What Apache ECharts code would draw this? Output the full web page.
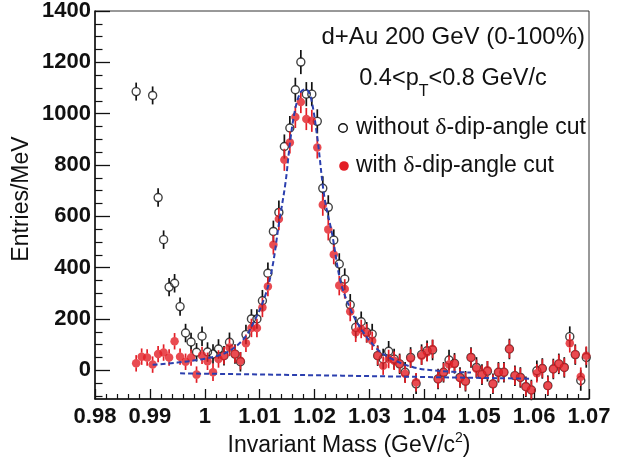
<!DOCTYPE html>
<html><head><meta charset="utf-8">
<script src="https://cdn.jsdelivr.net/npm/echarts@6/dist/echarts.min.js"></script>
<style>html,body{margin:0;padding:0;background:#fff}#c{width:632px;height:465px}</style>
</head><body><div id="c"></div>
<script>
// ---- data ----
const massBins = [
0.9875,0.9885,0.9895,0.9905,0.9915,0.9925,0.9935,0.9945,0.9955,0.9965,
0.9975,0.9985,0.9995,1.0005,1.0015,1.0025,1.0035,1.0045,1.0055,1.0065,
1.0075,1.0085,1.0095,1.0105,1.0115,1.0125,1.0135,1.0145,1.0155,1.0165,
1.0175,1.0185,1.0195,1.0205,1.0215,1.0225,1.0235,1.0245,1.0255,1.0265,
1.0275,1.0285,1.0295,1.0305,1.0315,1.0325,1.0335,1.0345,1.0355,1.0365,
1.0375,1.0385,1.0395,1.0405,1.0415,1.0425,1.0435,1.0445,1.0455,1.0465,
1.0475,1.0485,1.0495,1.0505,1.0515,1.0525,1.0535,1.0545,1.0555,1.0565,
1.0575,1.0585,1.0595,1.0605,1.0615,1.0625,1.0635,1.0645,1.0655,1.0665,
1.0675,1.0685,1.0695];
const withoutCut = [
1086,null,null,1071,673,509,324,339,248,145,
110,70,133,71,63,83,57,109,63,33,
139,200,200,271,378,541,615,872,944,1093,
1201,1076,1076,970,709,635,507,414,355,255,
167,189,148,141,57,44,74,44,25,-8,
50,-53,61,76,79,-34,-8,40,27,-28,
-43,50,11,-17,-4,-53,-8,-8,83,-21,
-28,-64,-77,-2,7,-60,5,25,11,131,
61,-40,50];
const withoutCutErr = [
35,35,35,35,36,36,36,36,36,36,
36,36,38,38,38,38,38,38,38,38,
38,38,38,42,42,42,47,47,47,47,
47,47,47,47,47,47,42,42,42,42,
42,40,40,40,40,40,40,40,40,40,
40,40,40,40,40,40,40,40,40,40,
40,40,40,40,40,40,40,40,40,40,
40,40,40,40,40,40,40,40,40,40,
40,40,40];
const withCut = [
27,53,50,22,63,69,50,113,53,33,
50,-17,58,35,-8,44,57,89,63,37,
105,165,165,245,326,489,589,820,888,987,
1045,979,972,868,645,549,451,330,317,229,
148,161,144,115,57,18,44,37,25,-14,
46,-47,57,70,83,-34,-8,22,25,-30,
-43,50,6,-17,0,-53,-8,-8,83,-21,
-28,-64,-77,-12,7,-60,5,25,11,105,
61,-25,57];
const withCutErr = [
32,32,32,32,32,32,32,32,32,32,
32,32,34,34,34,34,34,34,34,34,
34,36,36,38,38,38,43,43,43,43,
43,43,43,43,43,43,38,38,38,38,
38,36,36,36,36,36,36,36,36,36,
36,36,36,36,36,36,36,36,36,36,
36,36,36,36,36,36,36,36,36,36,
36,36,36,36,36,36,36,36,36,36,
36,36,36];
// fit curve (signal + background)
const fitMass = [0.9905,0.9950,1.0000,1.0040,1.0070,1.0090,1.0110,1.0123,1.0135,1.0147,1.0156,1.0165,1.0175,1.0184,1.0193,1.0205,1.0218,1.0232,1.0247,1.0265,1.0285,1.0314,1.0340,1.0381,1.0430,1.0485];
const fitVals = [21,30,45,70,120,190,290,400,570,730,900,1020,1085,1095,1065,907,674,531,349,240,160,83,45,11,-3,-9];
// background line
const bgMass = [0.9955,1.0250,1.0595];
const bgVals = [-12,-21,-33];
// axes
const xTickValues = [0.98,0.99,1.00,1.01,1.02,1.03,1.04,1.05,1.06,1.07];
const xTickLabels = ['0.98','0.99','1','1.01','1.02','1.03','1.04','1.05','1.06','1.07'];
const yTickValues = [0,200,400,600,800,1000,1200,1400];
const yTickLabels = ['0','200','400','600','800','1000','1200','1400'];

// minor tick positions (axis structure)
const xMinor = [];
for (let k = 0; k <= 45; k++) { if (k % 5) xMinor.push(+(0.98 + k * 0.002).toFixed(4)); }
const yMinor = [];
for (let v = -100; v <= 1400; v += 50) { if (v % 200) yMinor.push(v); }

const RED = '#e31e26', BLUE = '#2b3fae', FONT = 'Liberation Sans';

function pts(vals, errs) {
  const out = [];
  massBins.forEach((m, i) => { if (vals[i] != null) out.push([m, vals[i], errs[i]]); });
  return out;
}
function errBar(color, r) {
  return function (params, api) {
    const x = api.value(0), y = api.value(1), e = api.value(2);
    const c = api.coord([x, y]), t = api.coord([x, y + e]), b = api.coord([x, y - e]);
    const ch = [];
    if (c[1] - r > t[1]) ch.push({type:'line', shape:{x1:c[0], y1:t[1], x2:c[0], y2:c[1]-r}, style:{stroke:color, lineWidth:1.7}});
    if (b[1] > c[1] + r) ch.push({type:'line', shape:{x1:c[0], y1:c[1]+r, x2:c[0], y2:b[1]}, style:{stroke:color, lineWidth:1.7}});
    return {type:'group', children: ch};
  };
}
const openData = pts(withoutCut, withoutCutErr);
const redData = pts(withCut, withCutErr);

const chart = echarts.init(document.getElementById('c'), null, {renderer:'canvas'});
const axisLineStyle = {color:'#111', width:1.5};
chart.setOption({
  animation:false,
  grid:{left:95, top:10, right:43, bottom:66, show:true, borderColor:'#333', borderWidth:1, backgroundColor:'transparent'},
  xAxis:[
    {type:'value', min:0.98, max:1.07, position:'bottom',
     axisLine:{show:true, onZero:false, lineStyle:axisLineStyle},
     axisTick:{show:true, inside:true, length:10, customValues:xTickValues, lineStyle:{color:'#111', width:1.3}},
     axisLabel:{customValues:xTickValues, showMinLabel:true, showMaxLabel:true, margin:7,
       formatter:v => { const i = xTickValues.findIndex(t => Math.abs(t - v) < 1e-9); return i >= 0 ? xTickLabels[i] : ''; },
       fontFamily:FONT, fontWeight:'bold', fontSize:22, color:'#111'},
     splitLine:{show:false}},
    {type:'value', min:0.98, max:1.07, position:'bottom',
     axisLine:{show:false, onZero:false},
     axisTick:{show:true, inside:true, length:5, customValues:xMinor, lineStyle:{color:'#111', width:1.2}},
     axisLabel:{show:false}, splitLine:{show:false}}
  ],
  yAxis:[
    {type:'value', min:-112, max:1400, position:'left',
     axisLine:{show:true, onZero:false, lineStyle:axisLineStyle},
     axisTick:{show:true, inside:true, length:15, customValues:yTickValues, lineStyle:{color:'#111', width:1.3}},
     axisLabel:{customValues:yTickValues, showMinLabel:true, showMaxLabel:true, margin:4,
       formatter:v => { const i = yTickValues.indexOf(v); return i >= 0 ? yTickLabels[i] : ''; },
       fontFamily:FONT, fontWeight:'bold', fontSize:22, color:'#111'},
     splitLine:{show:false}},
    {type:'value', min:-112, max:1400, position:'left',
     axisLine:{show:false, onZero:false},
     axisTick:{show:true, inside:true, length:7.5, customValues:yMinor, lineStyle:{color:'#111', width:1.2}},
     axisLabel:{show:false}, splitLine:{show:false}}
  ],
  series:[
    {type:'custom', name:'without err', renderItem:errBar('#111', 4), data:openData, encode:{x:0, y:1}, z:2},
    {type:'scatter', name:'without δ-dip-angle cut', data:openData.map(d => [d[0], d[1]]), symbol:'circle', symbolSize:8,
     itemStyle:{color:'rgba(255,255,255,0)', borderColor:'#111', borderWidth:1.4}, z:3},
    {type:'custom', name:'with err', renderItem:errBar(RED, 4), data:redData, encode:{x:0, y:1}, z:4},
    {type:'scatter', name:'with δ-dip-angle cut', data:redData.map(d => [d[0], d[1]]), symbol:'circle', symbolSize:8.5,
     itemStyle:{color:RED}, z:5},
    {type:'line', name:'fit', data:fitMass.map((m, i) => [m, fitVals[i]]), smooth:0.35, showSymbol:false,
     lineStyle:{color:BLUE, width:2, type:[5,3]}, z:6},
    {type:'line', name:'background', data:bgMass.map((m, i) => [m, bgVals[i]]), showSymbol:false,
     lineStyle:{color:BLUE, width:2, type:[5,3]}, z:6}
  ],
  graphic:[
    {type:'text', x:585, y:37, style:{text:'d+Au 200 GeV (0-100%)', fontFamily:FONT, fontSize:24, fill:'#111', textAlign:'right', textVerticalAlign:'middle'}},
    {type:'text', x:453, y:79, style:{text:'{n|0.4<p}{s|T}{n|<0.8 GeV/c}', textAlign:'center', textVerticalAlign:'middle', fill:'#111',
      rich:{n:{fontFamily:FONT, fontSize:23.5, lineHeight:23, fill:'#111'}, s:{fontFamily:FONT, fontSize:16, lineHeight:16, padding:[26,0,0,0], fill:'#111'}}}},
    {type:'circle', shape:{cx:343, cy:128, r:4.3}, style:{fill:'none', stroke:'#111', lineWidth:1.4}},
    {type:'text', x:356, y:128, style:{text:'{n|without }{d|δ}{n|-dip-angle cut}', textAlign:'left', textVerticalAlign:'middle', fill:'#111',
      rich:{n:{fontFamily:FONT, fontSize:23, fill:'#111'}, d:{fontFamily:'Liberation Serif', fontSize:24, fill:'#111'}}}},
    {type:'circle', shape:{cx:344, cy:166, r:4.8}, style:{fill:RED}},
    {type:'text', x:356, y:166, style:{text:'{n|with }{d|δ}{n|-dip-angle cut}', textAlign:'left', textVerticalAlign:'middle', fill:'#111',
      rich:{n:{fontFamily:FONT, fontSize:23, fill:'#111'}, d:{fontFamily:'Liberation Serif', fontSize:24, fill:'#111'}}}},
    {type:'text', x:22, y:199, rotation:Math.PI/2, style:{text:'Entries/MeV', fontFamily:FONT, fontSize:23, fill:'#111', textAlign:'center', textVerticalAlign:'middle'}},
    {type:'text', x:349, y:446, style:{text:'{n|Invariant Mass (GeV/c}{s|2}{n|)}', textAlign:'center', textVerticalAlign:'middle', fill:'#111',
      rich:{n:{fontFamily:FONT, fontSize:23, lineHeight:23, fill:'#111'}, s:{fontFamily:FONT, fontSize:14, lineHeight:14, padding:[0,0,16,0], fill:'#111'}}}}
  ]
});
</script></body></html>
